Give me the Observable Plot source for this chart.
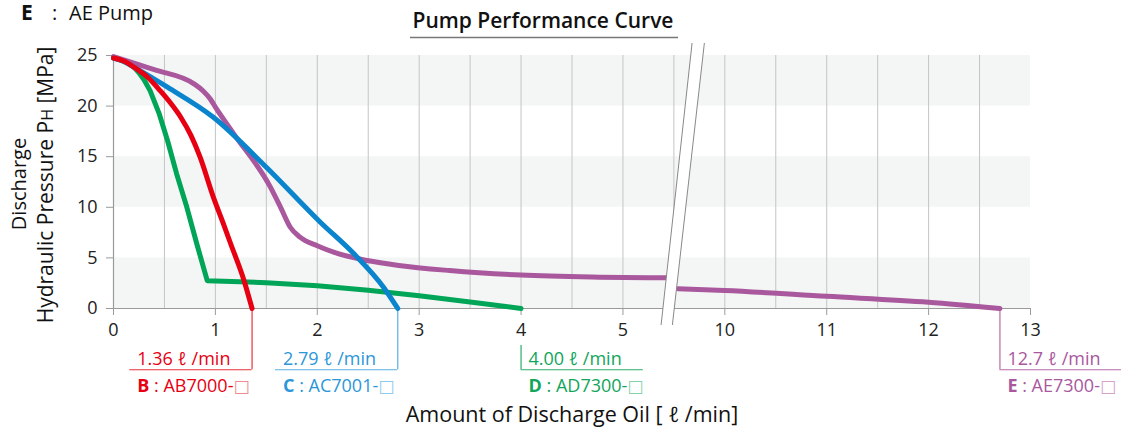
<!DOCTYPE html>
<html>
<head>
<meta charset="utf-8">
<script src="https://cdn.jsdelivr.net/npm/d3@7"></script>
<script src="https://cdn.jsdelivr.net/npm/@observablehq/plot@0.6"></script>
<style>
  body { margin: 0; background: #fff; }
  #chart svg { font-family: "Open Sans", "Noto Sans", sans-serif; overflow: visible; }
</style>
</head>
<body>
<div id="chart"></div>
<script>
// ---------- data ----------
const xTickValues = [0, 1, 2, 3, 4, 5, 10, 11, 12, 13];
const xGridValues = [0.5, 1, 1.5, 2, 2.5, 3, 3.5, 4, 4.5, 5, 5.5, 10, 10.5, 11, 11.5, 12, 12.5];
const yTickValues = [0, 5, 10, 15, 20, 25];
const bandLow = [0, 10, 20];
const bandHigh = [5, 15, 25];
const xBreakFrom = 5.5, xBreakTo = 9.5, xMax = 13;

// B : AB7000
const bX = [0, 0.1, 0.2, 0.33, 0.46, 0.56, 0.66, 0.76, 0.85, 0.98, 1.07, 1.15, 1.28, 1.36];
const bY = [24.75, 24.45, 23.85, 22.9, 21.5, 20.3, 18.9, 17.1, 14.95, 11.0, 8.6, 6.4, 2.8, 0];
// C : AC7001
const cX = [0, 0.1, 0.2, 0.53, 0.98, 1.5, 2.03, 2.36, 2.65, 2.79];
const cY = [24.75, 24.4, 23.85, 21.87, 18.9, 13.96, 8.53, 5.4, 2.1, 0];
// D : AD7300
const dX = [0, 0.05, 0.1, 0.15, 0.2, 0.25, 0.3, 0.36, 0.45, 0.53, 0.62, 0.72, 0.82, 0.92, 1.5, 2.0, 2.5, 3.0, 3.5, 4.0];
const dY = [24.75, 24.65, 24.45, 24.2, 23.85, 23.3, 22.6, 21.5, 19.2, 16.6, 13.3, 10.0, 6.3, 2.75, 2.55, 2.25, 1.8, 1.25, 0.65, 0];
// E : AE7300
const eX = [0, 0.4, 0.79, 0.88, 0.95, 1.0, 1.18, 1.54, 1.64, 1.735, 1.83, 2.0, 2.16, 2.49, 2.8, 3.3, 4.0, 4.77, 5.43, 9.54, 10, 11, 12, 12.7];
const eY = [24.9, 23.6, 22.2, 21.5, 20.7, 19.9, 17.26, 12.0, 10.0, 8.03, 7.05, 6.2, 5.56, 4.74, 4.25, 3.75, 3.3, 3.1, 3.03, 1.94, 1.78, 1.2, 0.62, 0];

const seriesKeys = ["B", "C", "D", "E"];
const seriesModels = ["AB7000-", "AC7001-", "AD7300-", "AE7300-"];
const seriesMaxFlow = [1.36, 2.79, 4.00, 12.7];
const seriesFlowLabels = ["1.36", "2.79", "4.00", "12.7"];
const seriesColors = ["#e60012", "#0a84cc", "#00a557", "#a9589e"];
const seriesTextColors = ["#e60012", "#2c97d8", "#12a55c", "#a9589e"];
const seriesLeaderColors = ["#e8303a", "#5ab0e3", "#2aae6a", "#b66aa9"];
const seriesBoxColors = ["#f08a90", "#8ccbee", "#86d2a8", "#d3a2cb"];
const seriesLabelLeft = [true, true, false, false];

// ---------- broken x axis: values beyond the break are shifted left ----------
const gap = xBreakTo - xBreakFrom;
const brkMap = v => v >= xBreakTo ? v - gap : Math.min(v, xBreakFrom);
const brkUnmap = v => v > xBreakFrom ? v + gap : v;

const pts = (xs, ys) => xs.map((x, i) => ({x, y: ys[i], side: x >= xBreakTo ? 1 : 0}));
const curves = [pts(bX, bY), pts(cX, cY), pts(dX, dY), pts(eX, eY)];
const bands = bandLow.map((lo, i) => ({lo, hi: bandHigh[i]}));

const leaderY = -6.05;
const leaderLen = 1.2;
const annots = seriesKeys.map((k, i) => {
  const end = brkMap(seriesMaxFlow[i]);
  const onTick = xTickValues.includes(seriesMaxFlow[i]);
  return {
    k, end, onTick,
    x1: seriesLabelLeft[i] ? end - leaderLen : end,
    x2: seriesLabelLeft[i] ? end : end + leaderLen,
    color: seriesLeaderColors[i]
  };
});

const lineOrder = [2, 3, 1, 0];

const plot = Plot.plot({
  width: 1121,
  height: 430,
  marginLeft: 113,
  marginRight: 91,
  marginTop: 55,
  marginBottom: 122,
  style: {fontSize: "18px", color: "#222", background: "#fff", overflow: "visible"},
  x: {domain: [0, brkMap(xMax)]},
  y: {domain: [0, 25]},
  marks: [
    Plot.rectY(bands, {x1: 0, x2: brkMap(xMax), y1: "lo", y2: "hi", fill: "#f4f6f5"}),
    Plot.ruleX(xGridValues.map(brkMap), {y1: 0, y2: 25, stroke: "#c4c4c4", strokeWidth: 1}),
    Plot.ruleY([0], {x1: 0, x2: brkMap(xMax), stroke: "#9a9a9a", strokeWidth: 1.2}),
    Plot.ruleX([0], {y1: 0, y2: 25, stroke: "#9a9a9a", strokeWidth: 1.2}),
    Plot.axisX(xTickValues.map(brkMap), {tickSize: 7, tickPadding: 8, stroke: "#9a9a9a", fill: "#222", fontSize: 18, tickFormat: v => String(Math.round(brkUnmap(v))), label: null}),
    Plot.axisY(yTickValues, {tickSize: 7, tickPadding: 9, stroke: "#9a9a9a", fill: "#222", fontSize: 18, tickFormat: d => String(d), label: null}),
    // leaders
    Plot.ruleX(annots, {x: "end", y1: d => d.onTick ? -3.65 : 0, y2: leaderY, stroke: "color", strokeWidth: 1.2}),
    Plot.ruleY(annots, {y: leaderY, x1: "x1", x2: "x2", stroke: "color", strokeWidth: 1.2}),
    // curves
    ...lineOrder.map(i => Plot.line(curves[i], {
      x: d => brkMap(d.x), y: "y", z: "side", stroke: seriesColors[i], strokeWidth: 5,
      strokeLinecap: "round", strokeLinejoin: "round",
      curve: i === 2 ? "linear" : "monotone-x"
    }))
  ]
});

document.getElementById("chart").appendChild(plot);

const svg = d3.select(plot);
const sx = plot.scale("x"), sy = plot.scale("y");
const X = v => sx.apply(v), Y = v => sy.apply(v);

// axis break
const bx = X(xBreakFrom);
const yTopB = Y(25) - 12, yBotB = Y(0) + 17;
const brk = svg.append("g");
brk.append("polygon")
  .attr("points", [[bx - 12.3, yBotB], [bx + 18.7, yTopB], [bx + 31, yTopB], [bx - 1, yBotB]].map(p => p.join(",")).join(" "))
  .attr("fill", "#fff");
brk.append("line").attr("x1", bx - 12.3).attr("y1", yBotB).attr("x2", bx + 18.7).attr("y2", yTopB).attr("stroke", "#888").attr("stroke-width", 1);
brk.append("line").attr("x1", bx - 1).attr("y1", yBotB).attr("x2", bx + 31).attr("y2", yTopB).attr("stroke", "#888").attr("stroke-width", 1);

// annotation texts
annots.forEach((a, i) => {
  const tx = X(a.x1) + 8;
  const ly = Y(leaderY);
  const t1 = svg.append("text").attr("x", tx).attr("y", ly - 4).attr("text-anchor", "start")
    .attr("fill", seriesTextColors[i]).attr("font-size", 18);
  t1.append("tspan").text(seriesFlowLabels[i] + " ");
  t1.append("tspan").attr("font-style", "italic").text("ℓ");
  t1.append("tspan").text(" /min");
  const t2 = svg.append("text").attr("x", tx).attr("y", ly + 23).attr("text-anchor", "start")
    .attr("fill", seriesTextColors[i]).attr("font-size", 18);
  t2.append("tspan").attr("font-weight", 700).text(seriesKeys[i]);
  t2.append("tspan").text(" : " + seriesModels[i]);
  t2.append("tspan").attr("fill", seriesBoxColors[i]).attr("font-family", "DejaVu Sans").attr("font-size", 17).text("□");
});

// header
const h = svg.append("text").attr("y", 20).attr("text-anchor", "start").attr("fill", "#111").attr("font-size", 20);
h.append("tspan").attr("x", 21).attr("font-weight", 700).attr("font-size", 21).text("E");
h.append("tspan").attr("x", 52).text(":");
h.append("tspan").attr("x", 69).text("AE Pump");

svg.append("text").attr("x", 543).attr("y", 28).attr("text-anchor", "middle")
  .attr("font-size", 21).attr("font-weight", 600).attr("fill", "#111").text("Pump Performance Curve");
svg.append("line").attr("x1", 410).attr("x2", 678).attr("y1", 37.5).attr("y2", 37.5)
  .attr("stroke", "#777").attr("stroke-width", 1.3);

// axis titles
svg.append("text").attr("transform", "translate(26,184) rotate(-90)").attr("text-anchor", "middle")
  .attr("font-size", 20).attr("fill", "#111").text("Discharge");
const yt = svg.append("text").attr("transform", "translate(53,185) rotate(-90)").attr("text-anchor", "middle")
  .attr("font-size", 21).attr("fill", "#111");
yt.append("tspan").text("Hydraulic Pressure P");
yt.append("tspan").attr("font-size", 16).text("H");
yt.append("tspan").text(" [MPa]");

const xt = svg.append("text").attr("x", 572).attr("y", 422).attr("text-anchor", "middle")
  .attr("font-size", 21.5).attr("fill", "#111");
xt.append("tspan").text("Amount of Discharge Oil [ ");
xt.append("tspan").attr("font-style", "italic").text("ℓ");
xt.append("tspan").text(" /min]");
</script>
</body>
</html>
